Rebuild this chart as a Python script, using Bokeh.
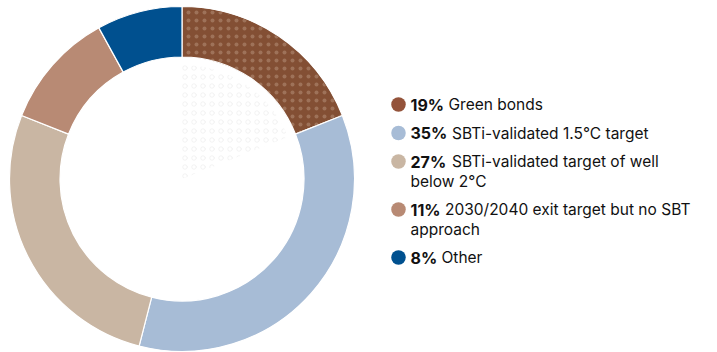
import numpy as np
import pandas as pd
from bokeh.plotting import figure
from bokeh.models import Range1d, ColumnDataSource
from bokeh.core.properties import value
from bokeh.embed import file_html
from bokeh.resources import INLINE

# ---- data ----
categories = ["Green bonds", "SBTi-validated 1.5°C target",
              "SBTi-validated target of well below 2°C",
              "2030/2040 exit target but no SBT approach", "Other"]
shares = [19, 35, 27, 11, 8]
pct_labels = ["19%", "35%", "27%", "11%", "8%"]
label_line1 = ["Green bonds", "SBTi-validated 1.5°C target",
               "SBTi-validated target of well", "2030/2040 exit target but no SBT", "Other"]
label_line2 = ["", "", "below 2°C", "approach", ""]
colors = ["#834f34", "#a7bcd6", "#c9b6a3", "#b88a74", "#00508f"]
dot_colors = ["#94533a", "#a7bcd6", "#c9b6a3", "#b88a74", "#00508f"]

W, H = 717, 352
FONT = "Inter"

df = pd.DataFrame({"cat": categories, "share": shares, "color": colors})
frac = df["share"] / df["share"].sum()
cum_end = frac.cumsum()
cum_start = cum_end - frac
df["start"] = np.pi / 2 - cum_end * 2 * np.pi
df["end"] = np.pi / 2 - cum_start * 2 * np.pi

p = figure(width=W, height=H, output_backend="svg", toolbar_location=None,
           x_range=Range1d(0, W), y_range=Range1d(0, H), min_border=0)
p.axis.visible = False
p.xgrid.visible = False
p.ygrid.visible = False
p.outline_line_color = None
p.background_fill_color = "white"

cx, cy = 181.5, H - 178.5
r_in, r_out = 122, 172.5

src = ColumnDataSource(df)
p.annular_wedge(x=cx, y=cy, inner_radius=r_in, outer_radius=r_out,
                start_angle="start", end_angle="end", direction="anticlock",
                fill_color="color", line_color="white", line_width=1.2, source=src)

# texture on first slice
first = ColumnDataSource(df.iloc[[0]])
p.annular_wedge(x=cx, y=cy, inner_radius=r_in, outer_radius=r_out - 1,
                start_angle="start", end_angle="end", direction="anticlock",
                fill_alpha=0, line_color=None, hatch_pattern="dot",
                hatch_color="#d6bba8", hatch_alpha=0.32, hatch_scale=8,
                hatch_weight=1.2, source=first)
# faint pattern in the hole
p.wedge(x=cx, y=cy, radius=r_in - 8, start_angle="start", end_angle="end",
        direction="anticlock", fill_alpha=0, line_color=None,
        hatch_pattern="ring", hatch_color="#e2e2e2", hatch_alpha=0.4,
        hatch_scale=9, hatch_weight=1, source=first)

# ---- legend ----
dot_x, txt_x = 398, 410
row_y = []
y = 104
for l2 in label_line2:
    row_y.append(y)
    y += 28.5 + (19.5 if l2 else 0)

# approximate advance widths of bold 16px glyphs, to place the label after the share
adv = {"1": 7.0, "%": 16.0}
def bold_width(s):
    return sum(adv.get(ch, 10.5) for ch in s)

rows = pd.DataFrame({"pct": pct_labels, "l1": label_line1, "l2": label_line2,
                     "dc": dot_colors})
rows["y"] = [H - v for v in row_y]
rows["y2"] = rows["y"] - 19.5
rows["x_pct"] = txt_x
rows["x_l1"] = [txt_x + bold_width(s) + 4.5 for s in pct_labels]
rsrc = ColumnDataSource(rows)

p.scatter(x=dot_x, y="y", size=14.5, fill_color="dc", line_color=None, source=rsrc)
p.text(x="x_pct", y="y", text="pct", text_font=value(FONT), text_font_style="bold",
       text_font_size="16px", text_baseline="middle", text_color="#111111", source=rsrc)
p.text(x="x_l1", y="y", text="l1", text_font=value(FONT),
       text_font_size="15.5px", text_baseline="middle", text_color="#111111", source=rsrc)
p.text(x="x_pct", y="y2", text="l2", text_font=value(FONT),
       text_font_size="15.5px", text_baseline="middle", text_color="#111111", source=rsrc)

open("out.html", "w").write(file_html(p, INLINE))
